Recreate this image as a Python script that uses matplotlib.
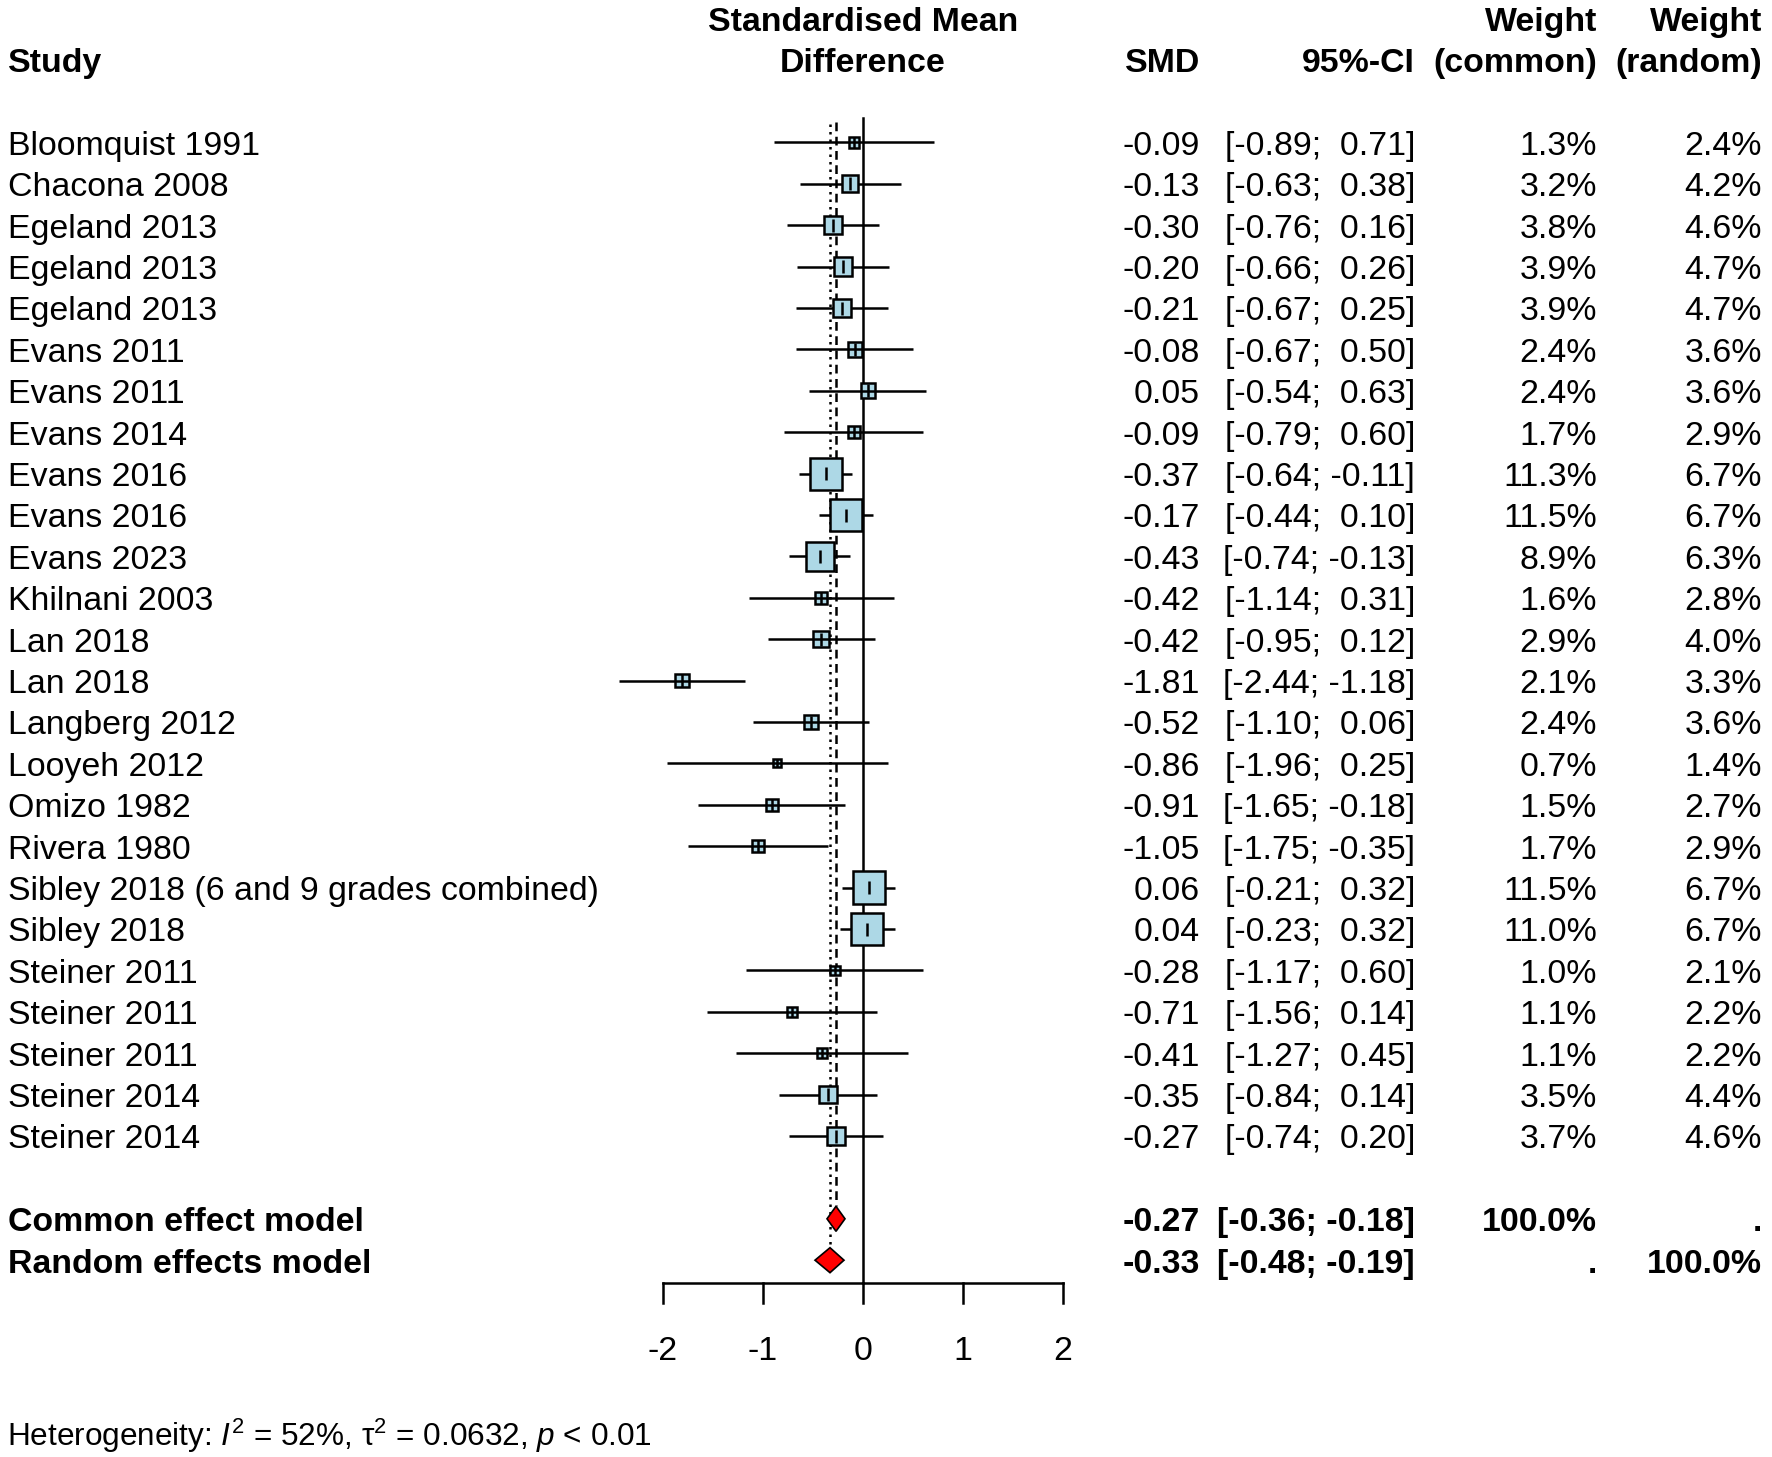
import matplotlib
matplotlib.use("Agg")
import matplotlib.pyplot as plt
from matplotlib.patches import Rectangle, Polygon

plt.rcParams['font.family'] = ['Liberation Sans', 'DejaVu Sans']
plt.rcParams['mathtext.fontset'] = 'custom'
plt.rcParams['mathtext.rm'] = 'Liberation Sans'
plt.rcParams['mathtext.it'] = 'Liberation Sans:italic'
plt.rcParams['mathtext.bf'] = 'Liberation Sans:bold'

# ---------------- data ----------------
studies = ["Bloomquist 1991", "Chacona 2008", "Egeland 2013", "Egeland 2013", "Egeland 2013",
           "Evans 2011", "Evans 2011", "Evans 2014", "Evans 2016", "Evans 2016", "Evans 2023",
           "Khilnani 2003", "Lan 2018", "Lan 2018", "Langberg 2012", "Looyeh 2012", "Omizo 1982",
           "Rivera 1980", "Sibley 2018 (6 and 9 grades combined)", "Sibley 2018", "Steiner 2011",
           "Steiner 2011", "Steiner 2011", "Steiner 2014", "Steiner 2014"]
smd = [-0.09, -0.13, -0.30, -0.20, -0.21, -0.08, 0.05, -0.09, -0.37, -0.17, -0.43,
       -0.42, -0.42, -1.81, -0.52, -0.86, -0.91, -1.05, 0.06, 0.04, -0.28, -0.71, -0.41, -0.35, -0.27]
ci_lo = [-0.89, -0.63, -0.76, -0.66, -0.67, -0.67, -0.54, -0.79, -0.64, -0.44, -0.74,
         -1.14, -0.95, -2.44, -1.10, -1.96, -1.65, -1.75, -0.21, -0.23, -1.17, -1.56, -1.27, -0.84, -0.74]
ci_hi = [0.71, 0.38, 0.16, 0.26, 0.25, 0.50, 0.63, 0.60, -0.11, 0.10, -0.13,
         0.31, 0.12, -1.18, 0.06, 0.25, -0.18, -0.35, 0.32, 0.32, 0.60, 0.14, 0.45, 0.14, 0.20]
w_common = [1.3, 3.2, 3.8, 3.9, 3.9, 2.4, 2.4, 1.7, 11.3, 11.5, 8.9,
            1.6, 2.9, 2.1, 2.4, 0.7, 1.5, 1.7, 11.5, 11.0, 1.0, 1.1, 1.1, 3.5, 3.7]
w_random = [2.4, 4.2, 4.6, 4.7, 4.7, 3.6, 3.6, 2.9, 6.7, 6.7, 6.3,
            2.8, 4.0, 3.3, 3.6, 1.4, 2.7, 2.9, 6.7, 6.7, 2.1, 2.2, 2.2, 4.4, 4.6]

model_labels = ["Common effect model", "Random effects model"]
model_est = [-0.27, -0.33]
model_lo = [-0.36, -0.48]
model_hi = [-0.18, -0.19]
model_wc = ["100.0%", "."]
model_wr = [".", "100.0%"]

x_ticks = [-2, -1, 0, 1, 2]
het_text = r"Heterogeneity: $\mathit{I}^{2}$ = 52%, $\mathrm{\tau}^{2}$ = 0.0632, $\mathit{p}$ < 0.01"

# ---------------- layout (pixels) ----------------
W, H = 1772, 1457
PX_X = 100.0          # pixels per SMD unit
X0 = 863.0            # pixel of SMD = 0
ROW0 = 142.4          # pixel of first row
PX_R = 41.4           # pixels per row
FS = 24.4
BASE = 0.3            # baseline offset in rows

fig = plt.figure(figsize=(W / 100, H / 100), dpi=100)
ax = fig.add_axes([0, 0, 1, 1])
ax.set_xlim(-X0 / PX_X, (W - X0) / PX_X)
ax.set_ylim((H - ROW0) / PX_R, -ROW0 / PX_R)
ax.axis('off')
tr = ax.get_yaxis_transform()

n = len(studies)
r_common = n + 1
r_random = n + 2
diam_h = 12.5 / PX_R
y_axis = (1283 - ROW0) / PX_R
tick_len = 20 / PX_R
lw = 1.8

# reference lines
ax.plot([0, 0], [-0.58, y_axis], color='black', lw=lw, zorder=1)
ax.plot([model_est[0]] * 2, [-0.5, r_common - diam_h], color='black', lw=lw,
        dashes=(3.5, 2.2), zorder=1)
ax.plot([model_est[1]] * 2, [-0.45, r_random - diam_h], color='black', lw=lw,
        dashes=(1, 2.0), zorder=1)

# studies
for i in range(n):
    ax.plot([ci_lo[i], ci_hi[i]], [i, i], color='black', lw=lw,
            solid_capstyle='butt', zorder=4 if w_common[i] < 3 else 2, clip_on=False)
    s = 9.5 * w_common[i] ** 0.5
    hw = s / 2 / PX_X
    hh = s / 2 / PX_R
    ax.add_patch(Rectangle((smd[i] - hw, i - hh), 2 * hw, 2 * hh, facecolor='#ADD8E6',
                           edgecolor='black', lw=lw, zorder=3))
    th = min(s / 2, 6.5) / PX_R
    ax.plot([smd[i], smd[i]], [i - th, i + th], color='black', lw=lw, zorder=5,
            solid_capstyle='butt')

# diamonds
for k, r in enumerate([r_common, r_random]):
    ax.add_patch(Polygon([(model_lo[k], r), (model_est[k], r - diam_h),
                          (model_hi[k], r), (model_est[k], r + diam_h)],
                         closed=True, facecolor='red', edgecolor='black', lw=1.2, zorder=3))

# x axis
ax.plot([x_ticks[0], x_ticks[-1]], [y_axis, y_axis], color='black', lw=lw,
        solid_capstyle='projecting')
for t in x_ticks:
    ax.plot([t, t], [y_axis, y_axis + tick_len], color='black', lw=lw)
    ax.text(t, 29.1 + BASE, f"{t}", ha='center', va='baseline', fontsize=FS)

# header
def fx(px):
    return px / W

hdr = dict(fontsize=FS, fontweight='bold', va='baseline', transform=tr)
ax.text(fx(8), -2 + BASE, "Study", ha='left', **hdr)
ax.text(0, -3 + BASE, "Standardised Mean", ha='center', va='baseline', fontsize=FS,
        fontweight='bold')
ax.text(0, -2 + BASE, "Difference", ha='center', va='baseline', fontsize=FS,
        fontweight='bold')
ax.text(fx(1200), -2 + BASE, "SMD", ha='right', **hdr)
ax.text(fx(1415), -2 + BASE, "95%-CI", ha='right', **hdr)
ax.text(fx(1597), -3 + BASE, "Weight", ha='right', **hdr)
ax.text(fx(1597), -2 + BASE, "(common)", ha='right', **hdr)
ax.text(fx(1762), -3 + BASE, "Weight", ha='right', **hdr)
ax.text(fx(1762), -2 + BASE, "(random)", ha='right', **hdr)

# table rows
row = dict(fontsize=FS, va='baseline', transform=tr)
for i in range(n):
    y = i + BASE
    ax.text(fx(8), y, studies[i], ha='left', **row)
    ax.text(fx(1200), y, f"{smd[i]:.2f}", ha='right', **row)
    ax.text(fx(1415), y, f"[{ci_lo[i]:5.2f}; {ci_hi[i]:5.2f}]", ha='right', **row)
    ax.text(fx(1597), y, f"{w_common[i]:.1f}%", ha='right', **row)
    ax.text(fx(1762), y, f"{w_random[i]:.1f}%", ha='right', **row)

for k, r in enumerate([r_common, r_random]):
    y = r + BASE
    ax.text(fx(8), y, model_labels[k], ha='left', fontweight='bold', **row)
    ax.text(fx(1200), y, f"{model_est[k]:.2f}", ha='right', fontweight='bold', **row)
    ax.text(fx(1415), y, f"[{model_lo[k]:5.2f}; {model_hi[k]:5.2f}]", ha='right',
            fontweight='bold', **row)
    ax.text(fx(1597), y, model_wc[k], ha='right', fontweight='bold', **row)
    ax.text(fx(1762), y, model_wr[k], ha='right', fontweight='bold', **row)

ax.text(fx(7), (1446 - ROW0) / PX_R, het_text, ha='left', va='baseline', fontsize=22.7,
        transform=tr)

fig.savefig("out.png", dpi=100)
